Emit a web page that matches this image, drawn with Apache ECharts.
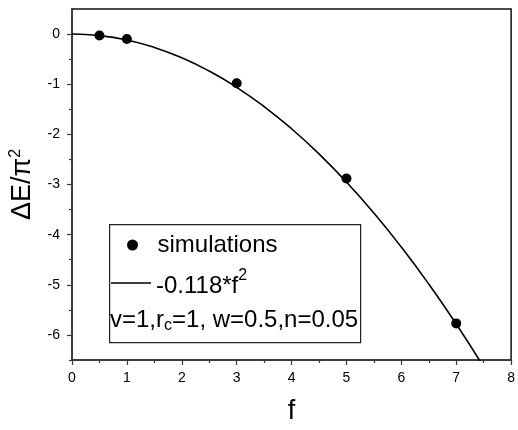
<!DOCTYPE html>
<html><head><meta charset="utf-8">
<script src="https://cdn.jsdelivr.net/npm/echarts@6/dist/echarts.min.js"></script>
<style>html,body{margin:0;padding:0;background:#fff}#c{width:518px;height:430px}</style>
</head><body><div id="c"></div>
<script>
// simulation points (f, ΔE/π²)
const simF = [0.5, 1, 3, 5, 7];
const simE = [-0.03, -0.10, -0.98, -2.88, -5.77];
// fitted curve -0.118*f^2 read at f steps
const fitF = [0, 0.5, 1, 1.5, 2, 2.5, 3, 3.5, 4, 4.5, 5, 5.5, 6, 6.5, 7, 7.5];
const fitE = [0, -0.030, -0.118, -0.266, -0.472, -0.738, -1.062, -1.446, -1.888, -2.390, -2.950, -3.570, -4.248, -4.986, -5.782, -6.638];
const xTicks = [0, 1, 2, 3, 4, 5, 6, 7, 8];
const yTicks = [0, -1, -2, -3, -4, -5, -6];
const yMinorTicks = [-0.5, -1.5, -2.5, -3.5, -4.5, -5.5, -6.5];
const seriesNames = ['simulations', '-0.118*f²'];
const paramText = ['v=1,r', 'c', '=1, w=0.5,n=0.05'];

const FONT = 'Liberation Sans, Arial, sans-serif';
const chart = echarts.init(document.getElementById('c'), null, {renderer: 'canvas'});
const axisColor = '#3a3a3a';
chart.setOption({
  animation: false,
  backgroundColor: '#fff',
  grid: {left: 70, right: 3, top: 9, bottom: 62, show: true, borderColor: '#111', borderWidth: 1.5, backgroundColor: 'transparent'},
  xAxis: {
    type: 'value', min: xTicks[0], max: xTicks[xTicks.length - 1], interval: 1,
    axisLine: {onZero: false, lineStyle: {color: axisColor, width: 1.5}},
    axisTick: {length: 5, lineStyle: {color: axisColor, width: 1.2}},
    minorTick: {show: true, splitNumber: 2, length: 3, lineStyle: {color: axisColor, width: 1.2}},
    splitLine: {show: false},
    axisLabel: {fontSize: 14, color: '#000', margin: 11, fontFamily: FONT},
    name: 'f', nameLocation: 'middle', nameGap: 38,
    nameTextStyle: {fontSize: 27, color: '#000', fontFamily: FONT}
  },
  yAxis: [{
    type: 'value', min: -6.5, max: 0.5,
    axisLine: {onZero: false, lineStyle: {color: axisColor, width: 1.5}},
    axisTick: {length: 5, customValues: yTicks, lineStyle: {color: axisColor, width: 1.2}},
    splitLine: {show: false},
    axisLabel: {customValues: yTicks, fontSize: 14, color: '#000', margin: 12, fontFamily: FONT},
    name: '{a|ΔE/π}{s|2}', nameLocation: 'middle', nameGap: 34,
    nameTextStyle: {
      color: '#000', fontFamily: FONT,
      rich: {
        a: {fontSize: 27, fontFamily: FONT, color: '#000', lineHeight: 30},
        s: {fontSize: 16, fontFamily: FONT, color: '#000', lineHeight: 14, verticalAlign: 'top'}
      }
    }
  }, {
    type: 'value', min: -6.5, max: 0.5, position: 'left', offset: 0,
    axisLine: {show: false},
    axisTick: {show: true, length: 3, customValues: yMinorTicks, lineStyle: {color: axisColor, width: 1.2}},
    axisLabel: {show: false},
    splitLine: {show: false}
  }],
  legend: [{
    data: [{name: seriesNames[0], icon: 'circle'}],
    orient: 'vertical', left: 127, top: 232, padding: 0,
    itemWidth: 40, itemHeight: 11,
    textStyle: {fontSize: 24, color: '#000', fontFamily: FONT, lineHeight: 26}
  }, {
    data: [{name: seriesNames[1], icon: 'rect'}],
    orient: 'vertical', left: 111, top: 268, padding: 0,
    itemWidth: 40, itemHeight: 1.6,
    itemStyle: {color: '#000'},
    formatter: () => '{n|-0.118*f}{s|2}',
    textStyle: {
      color: '#000', fontFamily: FONT,
      rich: {
        n: {fontSize: 24, fontFamily: FONT, color: '#000', lineHeight: 30, verticalAlign: 'bottom'},
        s: {fontSize: 16, fontFamily: FONT, color: '#000', lineHeight: 14, verticalAlign: 'top'}
      }
    }
  }],
  graphic: [{
    type: 'rect', left: 109, top: 224, z: 0,
    shape: {width: 251, height: 118},
    style: {fill: 'transparent', stroke: '#222', lineWidth: 1.2}
  }, {
    type: 'text', left: 110, top: 308, z: 10,
    style: {
      text: '{n|' + paramText[0] + '}{c|' + paramText[1] + '}{n|' + paramText[2] + '}',
      fill: '#000', fontFamily: FONT,
      rich: {
        n: {fontSize: 24, fontFamily: FONT, fill: '#000', lineHeight: 28},
        c: {fontSize: 16, fontFamily: FONT, fill: '#000', lineHeight: 14, verticalAlign: 'bottom'}
      }
    }
  }],
  series: [{
    name: seriesNames[1], type: 'line',
    data: fitF.map((f, i) => [f, fitE[i]]),
    smooth: true, symbol: 'none', clip: true,
    lineStyle: {color: '#000', width: 1.6},
    itemStyle: {color: '#000'},
    z: 2
  }, {
    name: seriesNames[0], type: 'scatter',
    data: simF.map((f, i) => [f, simE[i]]),
    symbol: 'circle', symbolSize: 10,
    itemStyle: {color: '#000', opacity: 1},
    z: 3
  }]
});
</script>
</body></html>
